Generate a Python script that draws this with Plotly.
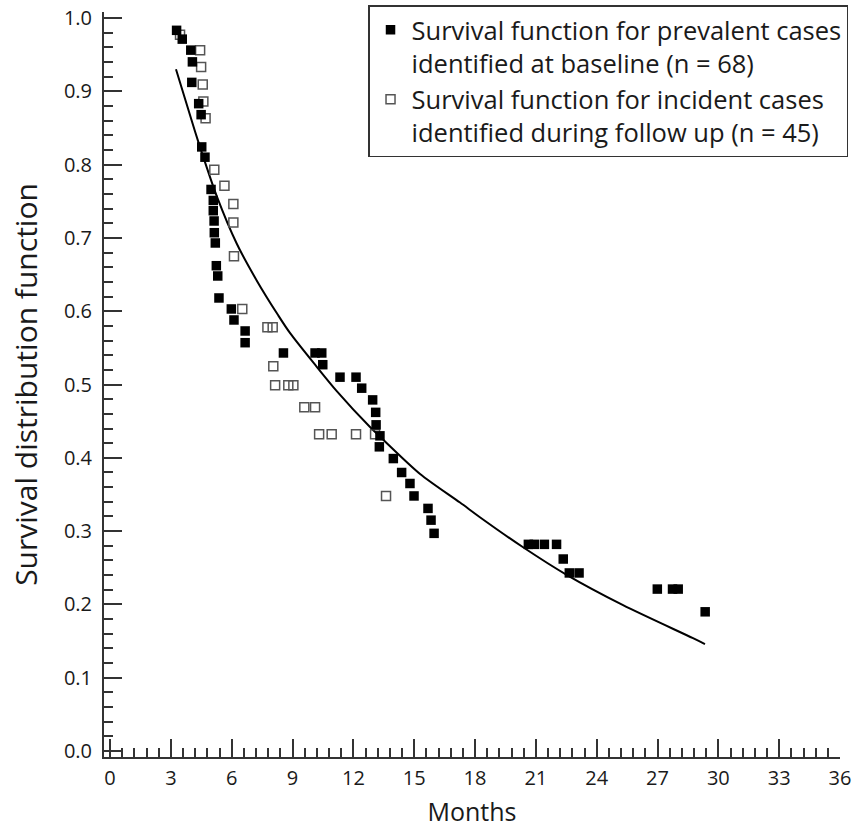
import plotly.graph_objects as go

# Prevalent cases identified at baseline (filled squares)
prev_months = [3.28, 3.56, 3.98, 4.06, 4.03, 4.37, 4.49, 4.52, 4.68, 4.98, 5.09, 5.09, 5.13, 5.14,
               5.19, 5.24, 5.31, 5.37, 5.98, 6.11, 6.66, 6.66, 8.55, 10.11, 10.44, 10.49, 11.34,
               12.13, 12.41, 12.95, 13.10, 13.12, 13.31, 13.28, 13.97, 14.38, 14.79, 14.99, 15.68,
               15.83, 15.98, 20.63, 20.92, 21.42, 22.02, 22.35, 22.65, 23.13, 26.99, 27.74, 28.02,
               29.35]
prev_surv = [0.983, 0.971, 0.956, 0.940, 0.912, 0.883, 0.868, 0.824, 0.810, 0.766, 0.751, 0.737,
             0.723, 0.707, 0.693, 0.662, 0.648, 0.618, 0.603, 0.588, 0.573, 0.557, 0.543, 0.543,
             0.543, 0.527, 0.510, 0.510, 0.495, 0.479, 0.462, 0.445, 0.430, 0.415, 0.399, 0.380,
             0.365, 0.348, 0.331, 0.315, 0.297, 0.282, 0.282, 0.282, 0.282, 0.262, 0.243, 0.243,
             0.221, 0.221, 0.221, 0.190]

# Incident cases identified during follow up (open squares)
inc_months = [3.45, 4.44, 4.49, 4.57, 4.60, 4.71, 5.14, 5.64, 6.08, 6.08, 6.11, 6.52, 7.76, 8.02,
              8.05, 8.14, 8.79, 9.04, 9.58, 10.11, 10.31, 10.93, 12.13, 13.07, 13.61]
inc_surv = [0.977, 0.956, 0.933, 0.909, 0.886, 0.863, 0.793, 0.771, 0.746, 0.721, 0.675, 0.603,
            0.578, 0.578, 0.525, 0.499, 0.499, 0.499, 0.469, 0.469, 0.432, 0.432, 0.432, 0.432,
            0.348]

# Fitted survival curve
fit_months = [3.25, 4.19, 4.60, 5.26, 6.25, 7.23, 8.30, 8.88, 10.11, 11.18, 12.82, 13.31, 15.29,
              17.26, 18.24, 20.37, 22.54, 25.30, 28.75, 29.34]
fit_surv = [0.930, 0.845, 0.810, 0.757, 0.692, 0.642, 0.594, 0.570, 0.527, 0.491, 0.442, 0.429,
            0.378, 0.339, 0.319, 0.278, 0.240, 0.199, 0.154, 0.146]

x_ticks = [0, 3, 6, 9, 12, 15, 18, 21, 24, 27, 30, 33, 36]
y_ticks = [0.0, 0.1, 0.2, 0.3, 0.4, 0.5, 0.6, 0.7, 0.8, 0.9, 1.0]

FONT = "Open Sans"
AX = "#333333"
TXT = "#1a1a1a"

fig = go.Figure()
fig.add_trace(go.Scatter(
    x=fit_months, y=fit_surv, mode="lines", line=dict(color="black", width=2, shape="spline", smoothing=0.8),
    showlegend=False, hoverinfo="skip"))
fig.add_trace(go.Scatter(
    x=inc_months, y=inc_surv, mode="markers",
    name="Survival function for incident cases<br>identified during follow up (n = 45)",
    marker=dict(symbol="square-open", size=9, color="#555555", line=dict(width=1.5)),
    legendrank=2))
fig.add_trace(go.Scatter(
    x=prev_months, y=prev_surv, mode="markers",
    name="Survival function for prevalent cases<br>identified at baseline (n = 68)",
    marker=dict(symbol="square", size=9.5, color="black"),
    legendrank=1))

fig.update_layout(
    template="none",
    width=855, height=829,
    margin=dict(l=104, r=15, t=12, b=72, autoexpand=False),
    paper_bgcolor="white", plot_bgcolor="white",
    font=dict(family=FONT, size=20, color=TXT),
    legend=dict(
        x=1.0109, xanchor="right", y=1.009, yanchor="top",
        bgcolor="white", bordercolor=AX, borderwidth=1.5,
        font=dict(family=FONT, size=25.5, color=TXT),
        valign="top", itemsizing="trace", tracegroupgap=2, itemwidth=32,
    ),
)
fig.update_xaxes(
    automargin=False,
    range=[-0.3, 36], tickmode="array", tickvals=x_ticks, ticktext=[str(v) for v in x_ticks],
    ticks="inside", ticklen=18, tickwidth=1.5, tickcolor=AX,
    showline=True, linecolor=AX, linewidth=2, showgrid=False, zeroline=False,
    minor=dict(dtick=0.6, tick0=0, ticks="inside", ticklen=9, tickwidth=1.5, tickcolor=AX, showgrid=False),
    ticklabelstandoff=2,
    title=dict(text="Months", standoff=13, font=dict(size=25)),
)
fig.update_yaxes(
    automargin=False,
    range=[-0.008, 1.008], tickmode="array", tickvals=y_ticks, ticktext=[f"{v:.1f}" for v in y_ticks],
    ticks="inside", ticklen=18, tickwidth=1.5, tickcolor=AX,
    showline=True, linecolor=AX, linewidth=2, showgrid=False, zeroline=False,
    minor=dict(dtick=0.02, tick0=0, ticks="inside", ticklen=9, tickwidth=1.5, tickcolor=AX, showgrid=False),
    ticklabelstandoff=6,
    title=dict(text="Survival distribution function", standoff=17, font=dict(size=30)),
)

fig.write_html("out.html", config={"displayModeBar": False},
               post_script="document.body.style.margin='0';")
